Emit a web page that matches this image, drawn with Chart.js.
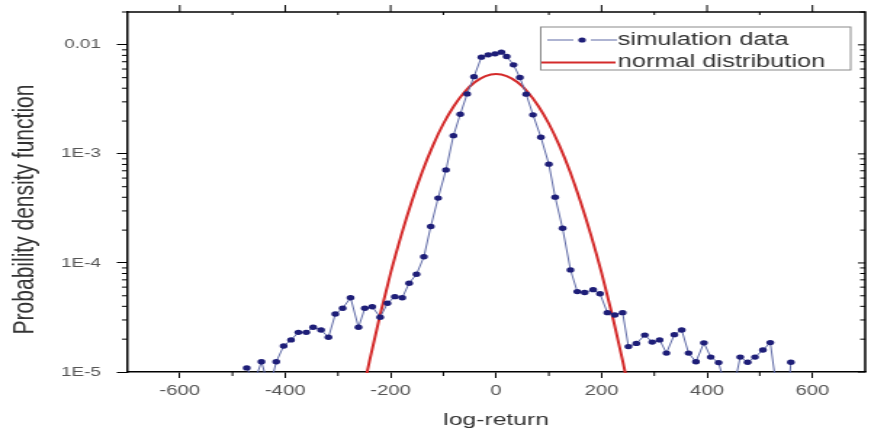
<!DOCTYPE html>
<html>
<head>
<meta charset="utf-8">
<script src="https://cdn.jsdelivr.net/npm/chart.js@4"></script>
<style>
  html, body { margin: 0; padding: 0; background: #fff; }
</style>
</head>
<body>
<!-- drawn narrow, shown stretched like the original figure -->
<canvas id="pdfChart" width="600" height="430" style="width:871px;height:430px;display:block"></canvas>
<script>
// simulation histogram (log-return, density)
const simX = [-473, -459, -445, -430, -417, -403, -389, -375, -360, -347, -332, -318, -305, -291, -276, -261,
  -249, -235, -220, -206, -192, -178, -165, -151, -137, -124, -110, -95, -81, -68, -55, -42, -28, -15, -2,
  10, 20, 33, 45, 57, 70, 85, 100, 112, 126, 141, 154, 168, 184, 197, 211, 225, 240, 251, 266, 282, 296,
  310, 323, 338, 352, 365, 379, 394, 407, 422, 436, 450, 463, 477, 491, 506, 520, 534, 546, 559];
const simY = [1.09e-5, 8e-6, 1.24e-5, 7e-6, 1.24e-5, 1.73e-5, 1.97e-5, 2.31e-5, 2.31e-5, 2.57e-5, 2.43e-5,
  2.08e-5, 3.40e-5, 3.84e-5, 4.80e-5, 2.57e-5, 3.84e-5, 3.97e-5, 3.18e-5, 4.27e-5, 4.91e-5, 4.80e-5,
  6.52e-5, 7.88e-5, 1.14e-4, 2.16e-4, 3.93e-4, 7.13e-4, 1.47e-3, 2.31e-3, 3.55e-3, 5.11e-3, 7.71e-3,
  8.09e-3, 8.27e-3, 8.57e-3, 7.82e-3, 6.55e-3, 5.01e-3, 3.53e-3, 2.28e-3, 1.42e-3, 8.05e-4, 4.01e-4,
  2.08e-4, 8.63e-5, 5.46e-5, 5.36e-5, 5.69e-5, 5.21e-5, 3.50e-5, 3.33e-5, 3.50e-5, 1.71e-5, 1.83e-5,
  2.18e-5, 1.88e-5, 1.97e-5, 1.49e-5, 2.20e-5, 2.43e-5, 1.49e-5, 1.24e-5, 1.85e-5, 1.37e-5, 1.22e-5,
  7e-6, 7e-6, 1.37e-5, 1.23e-5, 1.37e-5, 1.59e-5, 1.86e-5, 6e-6, 2e-6, 1.23e-5];

// normal distribution curve
const normX = [-260, -240, -220, -200, -180, -160, -140, -120, -100, -80, -60, -40, -20, 0,
  20, 40, 60, 80, 100, 120, 140, 160, 180, 200, 220, 240, 260];
const normY = [4.5e-6, 1.27e-5, 3.35e-5, 8.1e-5, 1.79e-4, 3.66e-4, 6.89e-4, 1.19e-3, 1.89e-3, 2.75e-3,
  3.70e-3, 4.56e-3, 5.17e-3, 5.40e-3, 5.17e-3, 4.56e-3, 3.70e-3, 2.75e-3, 1.89e-3, 1.19e-3, 6.89e-4,
  3.66e-4, 1.79e-4, 8.1e-5, 3.35e-5, 1.27e-5, 4.5e-6];

const xTicks = [-600, -400, -200, 0, 200, 400, 600];
const yTicks = [1e-5, 1e-4, 1e-3, 0.01];
const yTickLabels = ["1E-5", "1E-4", "1E-3", "0.01"];

const seriesNames = ["simulation data", "normal distribution"];
const simLine = "#5f6aa6", simDot = "#1e1e78", normColor = "#d42a2a";

// frame, minor ticks and the boxed legend
const frameTicks = {
    id: "frameTicks",
    afterDraw(chart) {
        const { ctx, chartArea: a, scales: { x, y } } = chart;
        ctx.save();
        ctx.strokeStyle = "#000";
        ctx.lineWidth = 1.5;
        ctx.beginPath();
        ctx.moveTo(a.left, a.top);
        ctx.lineTo(a.right, a.top);
        ctx.lineTo(a.right, a.bottom);
        ctx.stroke();

        ctx.lineWidth = 1;
        ctx.beginPath();
        for (let v = -600; v <= 600; v += 100) {
            const px = x.getPixelForValue(v);
            if (v % 200 === 0) {
                ctx.moveTo(px, a.top); ctx.lineTo(px, a.top - 7);
            } else {
                ctx.moveTo(px, a.top); ctx.lineTo(px, a.top + 3);
                ctx.moveTo(px, a.bottom); ctx.lineTo(px, a.bottom + 4);
            }
        }
        for (let e = -5; e <= -2; e++) {
            for (let m = 1; m <= 9; m++) {
                const v = m * Math.pow(10, e);
                if (v > 0.02) break;
                const py = y.getPixelForValue(v);
                if (m === 1) {
                    ctx.moveTo(a.right, py); ctx.lineTo(a.right - 5, py);
                } else {
                    ctx.moveTo(a.left, py); ctx.lineTo(a.left - 3.5, py);
                    ctx.moveTo(a.right, py); ctx.lineTo(a.right - 3.5, py);
                }
            }
        }
        ctx.stroke();

        // legend
        const bx = 372.5, by = 27, bw = 213.5, bh = 43;
        ctx.fillStyle = "#fff";
        ctx.fillRect(bx, by, bw, bh);
        ctx.strokeStyle = "#8a8a8a";
        ctx.lineWidth = 1;
        ctx.strokeRect(bx, by, bw, bh);

        const r1 = 40, r2 = 62.5;
        ctx.strokeStyle = simLine;
        ctx.lineWidth = 1.2;
        ctx.beginPath();
        ctx.moveTo(377, r1); ctx.lineTo(395, r1);
        ctx.moveTo(407, r1); ctx.lineTo(425, r1);
        ctx.stroke();
        ctx.fillStyle = simDot;
        ctx.beginPath();
        ctx.arc(401, r1, 2.6, 0, Math.PI * 2);
        ctx.fill();

        ctx.strokeStyle = normColor;
        ctx.lineWidth = 2;
        ctx.beginPath();
        ctx.moveTo(373, r2); ctx.lineTo(424, r2);
        ctx.stroke();

        ctx.fillStyle = "#333";
        ctx.font = "17.5px 'Liberation Sans', Arial, sans-serif";
        ctx.textBaseline = "middle";
        ctx.fillText(seriesNames[0], 425.5, r1);
        ctx.fillText(seriesNames[1], 425.5, r2);
        ctx.restore();
    }
};

new Chart(document.getElementById("pdfChart"), {
    type: "line",
    data: {
        datasets: [{
            label: seriesNames[0],
            data: simX.map((v, i) => ({ x: v, y: simY[i] })),
            borderColor: simLine,
            borderWidth: 1,
            pointRadius: 2.7,
            pointBackgroundColor: simDot,
            pointBorderWidth: 0,
            clip: 1
        }, {
            label: seriesNames[1],
            data: normX.map((v, i) => ({ x: v, y: normY[i] })),
            borderColor: normColor,
            borderWidth: 2,
            pointRadius: 0,
            cubicInterpolationMode: "monotone",
            clip: 1
        }]
    },
    options: {
        responsive: false,
        animation: false,
        layout: { padding: { top: 12, right: 3, left: 0, bottom: 0 } },
        plugins: { legend: { display: false }, tooltip: { enabled: false } },
        scales: {
            x: {
                type: "linear",
                min: -700,
                max: 700,
                afterBuildTicks: s => { s.ticks = xTicks.map(v => ({ value: v })); },
                afterFit: s => { s.height = 58; s.paddingLeft = 0; s.paddingRight = 0; },
                grid: { drawOnChartArea: false, tickLength: 6, color: "#000" },
                border: { color: "#000", width: 1.5 },
                ticks: {
                    color: "#555", padding: 5, maxRotation: 0, autoSkip: false,
                    font: { family: "'Liberation Sans', Arial, sans-serif", size: 14 },
                    callback: (v, i) => String(xTicks[i])
                },
                title: {
                    display: true, text: "log-return", color: "#333",
                    font: { family: "'Liberation Sans', Arial, sans-serif", size: 17 },
                    padding: { top: 0, bottom: -1 }
                }
            },
            y: {
                type: "logarithmic",
                min: 1e-5,
                max: 0.02,
                afterBuildTicks: s => { s.ticks = yTicks.map(v => ({ value: v })); },
                afterFit: s => { s.width = 87.5; s.paddingTop = 0; s.paddingBottom = 0; },
                grid: { drawOnChartArea: false, tickLength: 7, color: "#000" },
                border: { color: "#000", width: 1.5 },
                ticks: {
                    color: "#555", padding: 11,
                    font: { family: "'Liberation Sans', Arial, sans-serif", size: 13 },
                    callback: (v, i) => yTickLabels[i]
                },
                title: {
                    display: true, text: "Probability density function      ", color: "#333",
                    font: { family: "'Liberation Sans', Arial, sans-serif", size: 21 },
                    padding: { top: 5, bottom: 4 }
                }
            }
        }
    },
    plugins: [frameTicks]
});
</script>
</body>
</html>
